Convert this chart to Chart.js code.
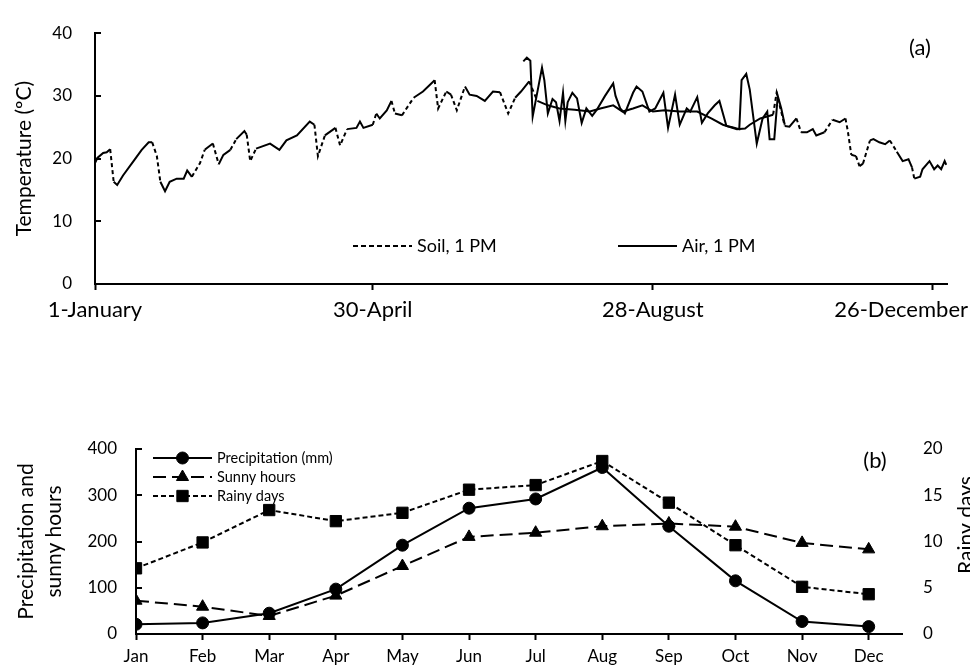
<!DOCTYPE html>
<html>
<head>
<meta charset="utf-8">
<style>
html, body { margin: 0; padding: 0; background: #fff; }
#wrap { position: relative; width: 970px; height: 671px; overflow: hidden; }
canvas { position: absolute; left: 0; }
#chartTemp { top: 0; }
#chartClimate { top: 410px; }
</style>
<script src="https://cdn.jsdelivr.net/npm/chart.js@4/dist/chart.umd.min.js"></script>
</head>
<body>
<div id="wrap">
  <canvas id="chartTemp" width="970" height="330"></canvas>
  <canvas id="chartClimate" width="970" height="261"></canvas>
</div>
<script>
// (a) daily temperature at 1 PM (day of year, °C)
const soilDays = [0, 1, 3.5, 5, 6.5, 8, 9.5, 12, 16.5, 20, 23, 24.5, 26.5, 28, 30, 32, 35, 38, 39.5, 41.5,
  45, 47, 50.5, 53, 55, 58, 60.5, 64, 65, 66.5, 69, 75, 79, 82, 86.5, 92, 94, 95.5, 98.5, 103,
  105, 108, 112, 113.5, 115, 119, 120.5, 122, 125, 127, 128.5, 131.5, 136.5, 140.5, 145.5, 147, 150.5, 152.5, 155, 158.5,
  160.5, 163.5, 167, 170.5, 173.5, 177, 180, 182.5, 186, 189.5, 194, 199, 205.5, 212, 216.5, 222, 226, 230.5, 234.5, 239,
  244, 250.5, 258, 264, 269, 275, 278.5, 280.5, 285, 290.5, 292, 293.5, 295.5, 297.5, 300.5, 302.5, 305, 307.5, 309, 312.5,
  316, 319, 321.5, 322.5, 324, 326, 327.5, 329, 332, 333.5, 336, 338.5, 340.5, 343.5, 346, 348.5, 350, 351, 353.5, 354.5,
  357.5, 359.5, 361, 362.5, 364, 364.7];
const soilTemps = [19.3, 20.1, 20.9, 21.0, 21.5, 16.3, 15.8, 17.3, 19.6, 21.4, 22.6, 22.6, 20.4, 16.3, 14.8, 16.3, 16.8, 16.8, 18.1, 17.1,
  19.3, 21.4, 22.4, 19.1, 20.6, 21.4, 23.1, 24.4, 23.8, 19.6, 21.6, 22.4, 21.4, 22.9, 23.7, 25.9, 25.4, 20.4, 23.7, 24.9,
  22.1, 24.7, 24.9, 25.9, 24.9, 25.4, 27.2, 26.4, 27.7, 29.2, 27.2, 26.9, 29.7, 30.7, 32.5, 28.0, 30.7, 30.2, 27.7, 31.5,
  30.2, 30.0, 29.2, 30.7, 30.6, 27.2, 29.7, 30.7, 32.3, 29.2, 28.5, 28.0, 27.8, 27.5, 28.0, 28.5, 27.5, 28.0, 28.5, 27.5,
  27.7, 27.5, 27.5, 26.4, 25.4, 24.7, 24.8, 25.4, 26.4, 27.0, 30.5, 28.2, 25.2, 25.1, 26.4, 24.2, 24.2, 24.7, 23.7, 24.2,
  26.2, 25.8, 26.4, 24.4, 20.6, 20.4, 18.8, 19.2, 22.9, 23.1, 22.6, 22.3, 22.9, 21.1, 19.6, 19.9, 18.6, 16.8, 17.1, 18.3,
  19.6, 18.3, 18.9, 18.3, 19.6, 19.0];
const airDays = [183.5, 185, 186.5, 187.5, 191.5, 192.5, 194, 196, 197.5, 199, 200.5, 201.5, 202.5, 204.5, 206.5, 208.5, 210.5, 213, 215, 218.5,
  222, 223, 225, 227, 230.5, 232, 234.5, 237.5, 240, 243.5, 245.5, 248.5, 250.5, 253.5, 255, 258, 260, 262.5, 265.5, 267.5,
  270.5, 273, 276, 277, 279, 280.5, 283.5, 286, 288, 289, 291, 292.5, 294, 295.5];
const airTemps = [35.5, 36.1, 35.6, 26.7, 34.5, 32.5, 27.2, 29.5, 29.0, 26.0, 30.5, 26.0, 29.0, 30.5, 29.6, 25.7, 28.0, 26.8, 27.8, 30.0,
  32.0, 30.0, 28.0, 27.2, 30.5, 31.5, 30.7, 27.5, 28.0, 30.5, 24.9, 30.2, 25.4, 28.0, 27.5, 29.8, 25.7, 27.2, 28.5, 29.2,
  25.2, 25.0, 24.7, 32.5, 33.5, 31.0, 22.4, 26.4, 27.5, 23.1, 23.1, 30.0, 28.0, 25.4];
const tickDays = [0, 119, 239, 359];
const tickLabels = ['1-January', '30-April', '28-August', '26-December'];

// (b) monthly climate
const months = ['Jan', 'Feb', 'Mar', 'Apr', 'May', 'Jun', 'Jul', 'Aug', 'Sep', 'Oct', 'Nov', 'Dec'];
const precipitation = [21, 24, 45, 97, 192, 272, 292, 360, 233, 115, 27, 16];
const sunnyHours = [72, 59, 39, 83, 147, 210, 219, 233, 239, 232, 197, 183];
const rainyDays = [7.1, 9.9, 13.4, 12.2, 13.1, 15.6, 16.1, 18.7, 14.2, 9.6, 5.1, 4.3];

Chart.defaults.font.family = 'Lato';
Chart.defaults.color = '#000';

function toPoints(xs, ys) {
    return xs.map((x, i) => ({ x: x, y: ys[i] }));
}

// ticks that point into the plot, like the original
const innerTicks = {
    id: 'innerTicks',
    afterDraw(chart) {
        const ctx = chart.ctx;
        const scale = chart.scales.y;
        ctx.save();
        ctx.strokeStyle = '#000';
        ctx.lineWidth = 2;
        scale.ticks.forEach(t => {
            const y = Math.round(scale.getPixelForValue(t.value));
            ctx.beginPath();
            ctx.moveTo(scale.right, y);
            ctx.lineTo(scale.right + 6, y);
            ctx.stroke();
        });
        ctx.restore();
    }
};

const tempExtras = {
    id: 'tempExtras',
    afterDraw(chart) {
        const ctx = chart.ctx;
        const xs = chart.scales.x;
        ctx.save();
        ctx.fillStyle = '#000';
        ctx.textBaseline = 'middle';
        ctx.textAlign = 'center';
        ctx.font = '22px Lato';
        tickDays.forEach((d, i) => {
            const w = ctx.measureText(tickLabels[i]).width;
            const cx = Math.min(xs.getPixelForValue(d), chart.width - 2 - w / 2);
            ctx.fillText(tickLabels[i], cx, 310);
        });

        // legend
        ctx.font = '18px Lato';
        ctx.textAlign = 'left';
        ctx.strokeStyle = '#000';
        ctx.lineWidth = 2;
        const items = [
            { x: 353, label: chart.data.datasets[0].label, dash: [5, 3] },
            { x: 618, label: chart.data.datasets[1].label, dash: [] }
        ];
        items.forEach(it => {
            ctx.setLineDash(it.dash);
            ctx.beginPath();
            ctx.moveTo(it.x, 246);
            ctx.lineTo(it.x + 59, 246);
            ctx.stroke();
            ctx.fillText(it.label, it.x + 64, 246);
        });
        ctx.setLineDash([]);
        ctx.font = '22px Lato';
        ctx.textAlign = 'center';
        ctx.fillText('(a)', 920, 48);
        ctx.restore();
    }
};

new Chart(document.getElementById('chartTemp'), {
    type: 'line',
    data: {
        datasets: [{
            label: 'Soil, 1 PM',
            data: toPoints(soilDays, soilTemps),
            borderColor: '#000',
            borderWidth: 2,
            pointRadius: 0,
            segment: {
                borderDash: c => {
                    const dx = Math.abs(c.p1.x - c.p0.x);
                    const dy = Math.abs(c.p1.y - c.p0.y);
                    return (dy > 10 && dy > 1.5 * dx) ? [4, 3] : undefined;
                }
            }
        }, {
            label: 'Air, 1 PM',
            data: toPoints(airDays, airTemps),
            borderColor: '#000',
            borderWidth: 2,
            pointRadius: 0
        }]
    },
    options: {
        responsive: false,
        animation: false,
        devicePixelRatio: 1,
        layout: { padding: { top: 21, right: 23, left: 0, bottom: 0 } },
        plugins: { legend: { display: false }, tooltip: { enabled: false } },
        scales: {
            x: {
                type: 'linear',
                min: 0,
                max: 365,
                afterBuildTicks: s => { s.ticks = tickDays.map(v => ({ value: v })); },
                afterFit: s => { s.height = 46; },
                ticks: { display: false },
                grid: { drawOnChartArea: false, drawTicks: true, tickLength: 6, tickWidth: 2, tickColor: '#000' },
                border: { display: true, color: '#000', width: 2 }
            },
            y: {
                min: 0,
                max: 40,
                afterFit: s => { s.width = 95; },
                ticks: { stepSize: 10, padding: 23, font: { size: 17 } },
                grid: { display: false, drawTicks: false },
                border: { display: true, color: '#000', width: 2 },
                title: { display: true, text: 'Temperature (ºC)', font: { size: 21 }, padding: { top: 12 } }
            }
        }
    },
    plugins: [innerTicks, tempExtras]
});

const climateExtras = {
    id: 'climateExtras',
    afterDraw(chart) {
        const ctx = chart.ctx;
        const area = chart.chartArea;
        ctx.save();
        ctx.fillStyle = '#000';
        ctx.strokeStyle = '#000';
        ctx.textBaseline = 'middle';
        ctx.textAlign = 'left';
        ctx.font = '14.5px Lato';
        const x0 = area.left + 17, x1 = x0 + 59;
        chart.data.datasets.forEach((ds, i) => {
            const y = area.top + 9 + i * 19;
            ctx.lineWidth = 2;
            ctx.setLineDash(ds.borderDash || []);
            ctx.beginPath();
            ctx.moveTo(x0, y);
            ctx.lineTo(x1, y);
            ctx.stroke();
            ctx.setLineDash([]);
            ctx.lineWidth = 1;
            Chart.helpers.drawPoint(ctx, { pointStyle: ds.pointStyle, radius: ds.pointRadius, rotation: 0, borderWidth: 1 }, (x0 + x1) / 2, y);
            ctx.fillText(ds.label, x1 + 5, y);
        });

        ctx.font = '22px Lato';
        ctx.textAlign = 'center';
        ctx.fillText('(b)', 875, 51);

        // right axis title reads bottom to top
        ctx.font = '21px Lato';
        ctx.translate(966, 115);
        ctx.rotate(-Math.PI / 2);
        ctx.fillText('Rainy days', 0, 0);
        ctx.restore();
    }
};

new Chart(document.getElementById('chartClimate'), {
    type: 'line',
    data: {
        datasets: [{
            label: 'Precipitation (mm)',
            data: toPoints(months.map((m, i) => i), precipitation),
            yAxisID: 'y',
            borderColor: '#000',
            backgroundColor: '#000',
            borderWidth: 2,
            pointStyle: 'circle',
            pointRadius: 6,
            pointBorderWidth: 1
        }, {
            label: 'Sunny hours',
            data: toPoints(months.map((m, i) => i), sunnyHours),
            yAxisID: 'y',
            borderColor: '#000',
            backgroundColor: '#000',
            borderWidth: 2,
            borderDash: [13, 6],
            pointStyle: 'triangle',
            pointRadius: 7,
            pointBorderWidth: 1
        }, {
            label: 'Rainy days',
            data: toPoints(months.map((m, i) => i), rainyDays),
            yAxisID: 'y2',
            borderColor: '#000',
            backgroundColor: '#000',
            borderWidth: 2,
            borderDash: [5, 3],
            pointStyle: 'rect',
            pointRadius: 8,
            pointBorderWidth: 1
        }]
    },
    options: {
        responsive: false,
        animation: false,
        devicePixelRatio: 1,
        layout: { padding: { top: 39, right: 0, left: 0, bottom: 0 } },
        plugins: { legend: { display: false }, tooltip: { enabled: false } },
        scales: {
            x: {
                type: 'linear',
                min: 0,
                max: 11.5,
                afterBuildTicks: s => { s.ticks = months.map((m, i) => ({ value: i })); },
                afterFit: s => { s.height = 37; },
                ticks: { callback: v => months[v], padding: 6, font: { size: 17 }, maxRotation: 0 },
                grid: { drawOnChartArea: false, drawTicks: true, tickLength: 6, tickWidth: 2, tickColor: '#000' },
                border: { display: true, color: '#000', width: 2 }
            },
            y: {
                position: 'left',
                min: 0,
                max: 400,
                afterFit: s => { s.width = 136; },
                ticks: { stepSize: 100, padding: 19, font: { size: 17 } },
                grid: { display: false, drawTicks: false },
                border: { display: true, color: '#000', width: 2 },
                title: {
                    display: true,
                    text: ['Precipitation and', 'sunny hours'],
                    font: { size: 21, lineHeight: 1.33 },
                    padding: { top: 12 }
                }
            },
            y2: {
                position: 'right',
                min: 0,
                max: 20,
                afterFit: s => { s.width = 68; },
                ticks: { stepSize: 5, padding: 21, font: { size: 17 } },
                grid: { display: false, drawTicks: false },
                border: { display: false }
            }
        }
    },
    plugins: [innerTicks, climateExtras]
});
</script>
</body>
</html>
